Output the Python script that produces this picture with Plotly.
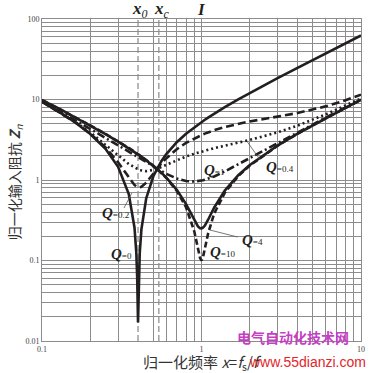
import plotly.graph_objects as go

# ---- data ----
x_freq = [0.1, 0.13, 0.16, 0.2, 0.25, 0.3, 0.35, 0.38, 0.39, 0.395, 0.4, 0.405, 0.41, 0.42,
          0.45, 0.5, 0.525, 0.56, 0.6, 0.7, 0.8, 0.9, 0.95, 0.98, 1.0, 1.02, 1.05, 1.1, 1.2,
          1.4, 1.7, 2, 3, 4, 6, 8, 10]

z_q0 = [9.38, 6.88, 5.25, 3.75, 2.44, 1.46, 0.670, 0.257, 0.127, 0.063, 0.017, 0.062, 0.124, 0.244,
        0.590, 1.125, 1.376, 1.714, 2.083, 2.946, 3.75, 4.514, 4.885, 5.105, 5.25, 5.395, 5.61, 5.966,
        6.667, 8.036, 10.04, 12.0, 18.42, 24.75, 37.33, 49.88, 62.4]

z_q02 = [9.38, 6.89, 5.28, 3.80, 2.54, 1.66, 1.07, 0.868, 0.832, 0.821, 0.813, 0.810, 0.810, 0.822,
         0.926, 1.216, 1.382, 1.603, 1.852, 2.413, 2.886, 3.284, 3.459, 3.558, 3.621, 3.682, 3.770,
         3.908, 4.154, 4.555, 5.000, 5.334, 6.125, 6.795, 8.213, 9.793, 11.50]

z_q04 = [9.40, 6.93, 5.34, 3.93, 2.77, 2.03, 1.58, 1.419, 1.381, 1.365, 1.351, 1.338, 1.327, 1.310,
         1.290, 1.335, 1.378, 1.451, 1.541, 1.763, 1.957, 2.119, 2.191, 2.231, 2.257, 2.282, 2.319,
         2.377, 2.483, 2.668, 2.911, 3.139, 3.908, 4.736, 6.522, 8.401, 10.32]

z_q1 = [9.49, 7.10, 5.61, 4.33, 3.33, 2.68, 2.23, 2.016, 1.954, 1.925, 1.896, 1.873, 1.850, 1.789,
        1.648, 1.458, 1.379, 1.285, 1.196, 1.045, 0.973, 0.957, 0.966, 0.975, 0.982, 0.991, 1.006,
        1.035, 1.106, 1.279, 1.572, 1.877, 2.906, 3.926, 5.950, 7.962, 9.969]

z_q4 = [9.81, 7.61, 6.03, 4.75, 3.71, 3.00, 2.49, 2.234, 2.158, 2.121, 2.085, 2.050, 2.016, 1.949,
        1.763, 1.497, 1.380, 1.230, 1.076, 0.754, 0.502, 0.318, 0.265, 0.251, 0.250, 0.255, 0.272,
        0.321, 0.452, 0.738, 1.146, 1.527, 2.682, 3.761, 5.841, 7.881, 9.904]

z_q10 = [9.88, 7.55, 6.08, 4.79, 3.74, 3.03, 2.50, 2.249, 2.172, 2.134, 2.098, 2.062, 2.027, 1.959,
         1.771, 1.500, 1.380, 1.226, 1.068, 0.733, 0.459, 0.232, 0.142, 0.107, 0.100, 0.108, 0.141,
         0.217, 0.382, 0.694, 1.117, 1.504, 2.669, 3.752, 5.835, 7.876, 9.901]

x_tick_vals = [0.1, 1, 10]
x_tick_text = ["0.1", "1", "10"]
y_tick_vals = [0.01, 0.1, 1, 10, 100]
y_tick_text = ["0.01", "0.1", "1", "10", "100"]
x0_value = 0.4
xc_value = 0.54

# ---- layout helpers (pixel -> paper) ----
W, H = 372, 373
ML, MR, MT, MB = 42, 7, 19, 32
PW, PH = W - ML - MR, H - MT - MB


def px(x):
    return (x - ML) / PW


def py(y):
    return (H - MB - y) / PH


INK = "#231f20"
GRID = "#8c8c8c"

fig = go.Figure()
series = [
    (z_q0, "solid"),
    (z_q4, "solid"),
    (z_q10, "6px,3px"),
    (z_q02, "8px,4px"),
    (z_q1, "8px,3px,2px,3px"),
    (z_q04, "2px,3px"),
]
for ys, dash in series:
    fig.add_trace(go.Scatter(x=x_freq, y=ys, mode="lines",
                             line=dict(color=INK, width=2.6, dash=dash),
                             showlegend=False, hoverinfo="skip"))

x_minor = [0.2, 0.3, 0.5, 0.6, 0.7, 0.8, 0.9, 2, 3, 4, 5, 6, 7, 8, 9]
y_minor = [k * 10 ** e for e in (-2, -1, 0, 1) for k in range(2, 10)]

tickfont = dict(family="Liberation Serif", size=8, color="#444")
fig.update_xaxes(type="log", range=[-1, 1], tickmode="array", tickvals=x_tick_vals,
                 ticktext=x_tick_text, showgrid=True, gridcolor=GRID, gridwidth=1,
                 minor=dict(tickmode="array", tickvals=x_minor, showgrid=True,
                            gridcolor=GRID, gridwidth=1, ticks=""),
                 showline=True, linecolor=GRID, linewidth=1, mirror=True, ticks="",
                 tickfont=tickfont, zeroline=False, ticklabelstandoff=0)
fig.update_yaxes(type="log", range=[-2, 2], tickmode="array", tickvals=y_tick_vals,
                 ticktext=y_tick_text, showgrid=True, gridcolor=GRID, gridwidth=1,
                 minor=dict(tickmode="array", tickvals=y_minor, showgrid=True,
                            gridcolor=GRID, gridwidth=1, ticks=""),
                 showline=True, linecolor=GRID, linewidth=1, mirror=True, ticks="",
                 tickfont=tickfont, zeroline=False)

shapes = []
for xv in (x0_value, xc_value):
    shapes.append(dict(type="line", xref="x", yref="paper", x0=xv, x1=xv, y0=0, y1=1,
                       line=dict(color="#a0a0a0", width=1.5, dash="6px,3px"), layer="between"))
for (a, b, c, d) in [(125, 208, 133, 193), (240, 237, 212, 230), (263, 160, 250, 142)]:
    shapes.append(dict(type="line", xref="paper", yref="paper", x0=px(a), y0=py(b),
                       x1=px(c), y1=py(d), line=dict(color="#555", width=0.8)))

annotations = []


def note(text, x, y, font, xanchor="center", **kw):
    annotations.append(dict(text=text, x=px(x), y=py(y), xref="paper", yref="paper",
                            showarrow=False, xanchor=xanchor, yanchor="middle",
                            font=font, **kw))


qfont = dict(family="Liberation Serif", size=15, color=INK)
for label, lx, ly in [("0.2", 116, 213), ("0", 122, 254), ("10", 225, 252),
                      ("4", 255, 240), ("1", 216, 170), ("0.4", 283, 167)]:
    note('<b><i>Q</i></b><span style="font-size:9px">=' + label + '</span>', lx, ly, qfont)

top_font = dict(family="Liberation Serif", size=17, color=INK)
note("<b><i>x</i></b><sub><i>0</i></sub>", 141, 10, top_font)
note("<b><i>x</i></b><sub><i>c</i></sub>", 164, 10, top_font)
note("<b><i>I</i></b>", 204, 9, top_font)
note("归一化输入阻抗 <b><i>Z</i></b><sub><i>n</i></sub>", 15, 182,
     dict(family="Noto Sans CJK SC", size=14, color="#333"), textangle=-90)
note("归一化频率 <i>x</i>=<i>f</i><sub>s</sub>/<i>f</i>", 142, 362,
     dict(family="Noto Sans CJK SC", size=15, color="#333"), xanchor="left")
note("<b>电气自动化技术网</b>", 296, 337,
     dict(family="Noto Sans CJK SC", size=14, color="#c43fc4"))
note("www.55dianzi.com", 311, 362,
     dict(family="Liberation Sans", size=14, color="#e3262b"))

fig.update_layout(width=W, height=H, margin=dict(l=ML, r=MR, t=MT, b=MB),
                  paper_bgcolor="white", plot_bgcolor="white",
                  shapes=shapes, annotations=annotations, showlegend=False)

fig.write_html("out.html", config={"displayModeBar": False, "staticPlot": True},
               post_script="document.body.style.margin='0px';document.body.style.overflow='hidden';")
